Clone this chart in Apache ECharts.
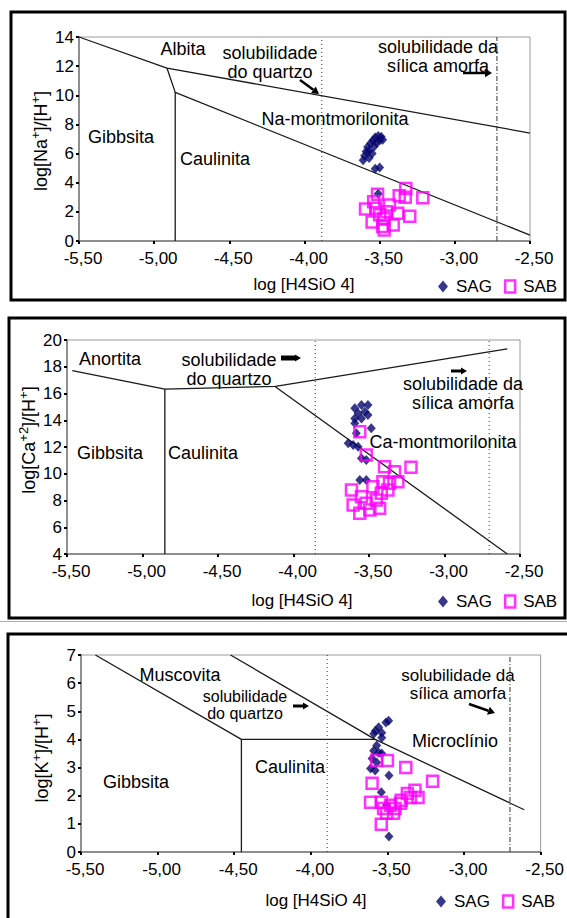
<!DOCTYPE html>
<html><head><meta charset="utf-8">
<script src="https://cdn.jsdelivr.net/npm/echarts@6/dist/echarts.min.js"></script>
<style>html,body{margin:0;padding:0;background:#fff}#c{width:567px;height:918px}</style>
</head><body><div id="c"></div>
<script>
// ---------- data (axis units) ----------
const xTicks = [-5.5, -5.0, -4.5, -4.0, -3.5, -3.0, -2.5];
const naTicks = [0, 2, 4, 6, 8, 10, 12, 14];
const caTicks = [4, 6, 8, 10, 12, 14, 16, 18, 20];
const kTicks = [0, 1, 2, 3, 4, 5, 6, 7];

// Panel 1: Na
const naBoundUpper = [[-5.5, 14.0], [-4.915, 11.87], [-2.5, 7.41]];
const naBoundLower = [[-4.915, 11.87], [-4.86, 10.2], [-2.5, 0.4]];
const naBoundVert = [[-4.86, 10.2], [-4.86, 0]];
const naQuartz = [[-3.885, 0], [-3.885, 14]];
const naAmorph = [[-2.72, 0], [-2.72, 14]];
const naSAG = [[-3.61,5.55],[-3.60,5.85],[-3.59,6.15],[-3.58,6.45],[-3.57,6.2],[-3.56,6.7],[-3.55,6.0],[-3.545,6.9],[-3.535,6.5],[-3.53,7.1],[-3.52,6.75],[-3.51,7.2],[-3.50,6.9],[-3.49,7.15],[-3.48,6.95],[-3.57,5.7],[-3.53,4.95],[-3.50,5.05],[-3.51,3.25]];
const naSAB = [[-3.514,3.2],[-3.594,2.2],[-3.37,3.1],[-3.326,3.6],[-3.213,2.97],[-3.526,2.24],[-3.454,2.0],[-3.38,1.9],[-3.30,1.7],[-3.55,1.3],[-3.48,1.0],[-3.41,1.1],[-3.47,1.55],[-3.50,1.8],[-3.435,2.47],[-3.47,0.75],[-3.54,2.7],[-3.33,3.0]];

// Panel 2: Ca
const caBoundUpper = [[-5.465, 17.71], [-4.852, 16.33], [-4.12, 16.53], [-2.584, 19.34]];
const caBoundVert = [[-4.852, 16.33], [-4.852, 4]];
const caBoundDiag = [[-4.12, 16.5], [-2.584, 4.0]];
const caQuartz = [[-3.856, 4], [-3.856, 20]];
const caAmorph = [[-2.704, 4], [-2.704, 20]];
const caSAG = [[-3.594,14.89],[-3.55,15.14],[-3.507,15.14],[-3.572,14.52],[-3.528,14.64],[-3.594,14.14],[-3.55,14.14],[-3.507,14.39],[-3.594,13.77],[-3.485,13.4],[-3.584,13.02],[-3.638,12.28],[-3.605,12.15],[-3.572,12.02],[-3.55,11.15],[-3.518,11.03],[-3.561,9.53],[-3.518,9.53]];
const caSAB = [[-3.561,13.14],[-3.518,11.4],[-3.397,10.53],[-3.331,10.15],[-3.222,10.48],[-3.616,8.79],[-3.55,8.28],[-3.474,9.03],[-3.408,9.41],[-3.364,9.29],[-3.309,9.41],[-3.605,7.66],[-3.518,7.79],[-3.452,8.04],[-3.561,7.04],[-3.495,7.29],[-3.43,7.42],[-3.419,8.54],[-3.375,8.79]];

// Panel 3: K
const kBoundLeft = [[-5.406, 7], [-4.453, 4], [-3.58, 4]];
const kBoundVert = [[-4.453, 4], [-4.453, 0]];
const kBoundRight = [[-4.524, 7], [-3.58, 4], [-2.607, 1.5]];
const kQuartz = [[-3.893, 0], [-3.893, 7]];
const kAmorph = [[-2.70, 0], [-2.70, 7]];
const kSAG = [[-3.492,4.66],[-3.51,4.6],[-3.557,4.43],[-3.578,4.31],[-3.589,4.2],[-3.537,4.24],[-3.537,4.06],[-3.57,3.78],[-3.59,3.6],[-3.557,3.53],[-3.537,3.5],[-3.60,3.32],[-3.57,3.18],[-3.61,2.97],[-3.58,2.9],[-3.49,2.72],[-3.54,2.12],[-3.505,1.66],[-3.49,0.55]];
const kSAB = [[-3.57,3.25],[-3.50,3.25],[-3.38,3.0],[-3.60,2.44],[-3.205,2.51],[-3.61,1.77],[-3.54,1.77],[-3.48,1.66],[-3.45,1.55],[-3.41,1.84],[-3.37,2.08],[-3.32,2.19],[-3.30,1.94],[-3.415,1.73],[-3.505,1.38],[-3.46,1.38],[-3.54,0.99],[-3.525,1.55],[-3.35,1.94]];

// ---------- chart ----------
const FONT = "'Liberation Sans', Arial, sans-serif";
const chart = echarts.init(document.getElementById('c'), null, {renderer: 'svg'});

const grids = [
  {left: 79, top: 37, width: 451, height: 204},
  {left: 67, top: 340, width: 453, height: 214},
  {left: 81, top: 655, width: 461, height: 197}
];
const yTickSets = [naTicks, caTicks, kTicks];

function xAxisFor(i) {
  return {
    type: 'value', gridIndex: i, min: xTicks[0], max: xTicks[xTicks.length - 1], interval: 0.5,
    splitLine: {show: false},
    axisLine: {onZero: false, lineStyle: {color: '#7a7a7a', width: 1.5}},
    axisTick: {show: true, length: 3, lineStyle: {color: '#000', width: 2}},
    axisLabel: {color: '#000', fontSize: 17, fontFamily: FONT, margin: 9, padding: [0, 0, 0, 8],
      formatter: v => v.toFixed(2).replace('.', ',')}
  };
}
function yAxisFor(i) {
  const t = yTickSets[i];
  return {
    type: 'value', gridIndex: i, min: t[0], max: t[t.length - 1], interval: t[1] - t[0],
    splitLine: {show: false},
    axisLine: {onZero: false, lineStyle: {color: '#7a7a7a', width: 1.5}},
    axisTick: {show: true, length: 3, lineStyle: {color: '#000', width: 2}},
    axisLabel: {color: '#000', fontSize: 17, fontFamily: FONT, margin: 5}
  };
}

function boundary(data, i) {
  return {type: 'line', xAxisIndex: i, yAxisIndex: i, data: data, symbol: 'none', silent: true,
    lineStyle: {color: '#1a1a1a', width: 1.3}, z: 2};
}
function refLine(data, i, dash) {
  return {type: 'line', xAxisIndex: i, yAxisIndex: i, data: data, symbol: 'none', silent: true,
    lineStyle: {color: '#333', width: 1, type: dash}, z: 1};
}
function sag(data, i) {
  return {type: 'scatter', name: 'SAG', xAxisIndex: i, yAxisIndex: i, data: data, symbol: 'diamond',
    symbolSize: [9, 10], itemStyle: {color: '#06066e'}, z: 3};
}
function sab(data, i) {
  return {type: 'scatter', name: 'SAB', xAxisIndex: i, yAxisIndex: i, data: data, symbol: 'rect',
    symbolSize: 11, itemStyle: {color: 'rgba(255,255,255,0)', borderColor: '#ff00ff', borderWidth: 2.5}, z: 4};
}

const dotted = [1, 3];
const dashDot = [5, 2, 1, 2];

const series = [
  boundary(naBoundUpper, 0), boundary(naBoundLower, 0), boundary(naBoundVert, 0),
  refLine(naQuartz, 0, dotted), refLine(naAmorph, 0, dashDot),
  sag(naSAG, 0), sab(naSAB, 0),
  boundary(caBoundUpper, 1), boundary(caBoundVert, 1), boundary(caBoundDiag, 1),
  refLine(caQuartz, 1, dotted), refLine(caAmorph, 1, dotted),
  sag(caSAG, 1), sab(caSAB, 1),
  boundary(kBoundLeft, 2), boundary(kBoundVert, 2), boundary(kBoundRight, 2),
  refLine(kQuartz, 2, dotted), refLine(kAmorph, 2, dashDot),
  sag(kSAG, 2), sab(kSAB, 2)
];

function legendAt(left, top) {
  return {
    left: left, top: top, itemWidth: 10, itemHeight: 12, itemGap: 12, selectedMode: false,
    textStyle: {fontSize: 17, fontFamily: FONT, color: '#000', padding: [0, 0, 0, 3]},
    data: [
      {name: 'SAG', icon: 'diamond', itemStyle: {color: '#06066e', borderWidth: 0}},
      {name: 'SAB', icon: 'rect', itemStyle: {color: 'rgba(255,255,255,0)', borderColor: '#ff00ff', borderWidth: 2.5}}
    ]
  };
}

// ---------- annotations ----------
function txt(x, y, s, size, lh) {
  return {type: 'text', x: x, y: y, silent: true,
    style: {text: s, fontSize: size || 18, fontFamily: FONT, fill: '#000', align: 'center', verticalAlign: 'middle',
      lineHeight: lh || Math.round((size || 18) * 1.15)}};
}
function arrow(x1, y1, x2, y2, w, h) {
  const dx = x2 - x1, dy = y2 - y1, L = Math.sqrt(dx * dx + dy * dy);
  const ux = dx / L, uy = dy / L, px = -uy, py = ux;
  const bx = x2 - ux * h, by = y2 - uy * h;
  return [
    {type: 'line', silent: true, shape: {x1: x1, y1: y1, x2: bx, y2: by}, style: {stroke: '#000', lineWidth: w}},
    {type: 'polygon', silent: true, shape: {points: [[x2, y2], [bx + px * h * 0.6, by + py * h * 0.6], [bx - px * h * 0.6, by - py * h * 0.6]]}, style: {fill: '#000'}}
  ];
}
function yTitle(x, y, ion) {
  return {type: 'text', x: x, y: y, rotation: Math.PI / 2, silent: true,
    style: {text: '{n|log[' + ion[0] + '}{s|' + ion[1] + '}{n|]/[H}{s|+}{n|]}', align: 'center', verticalAlign: 'middle',
      fill: '#000', fontFamily: FONT,
      rich: {n: {fontSize: 18, fontFamily: FONT, fill: '#000', verticalAlign: 'bottom'},
             s: {fontSize: 13, fontFamily: FONT, fill: '#000', verticalAlign: 'top', padding: [0, 0, 8, 0]}}}};
}
function border(x1, y1, x2, y2) {
  return {type: 'rect', silent: true, shape: {x: x1, y: y1, width: x2 - x1, height: y2 - y1},
    style: {fill: 'none', stroke: '#000', lineWidth: 3}};
}

const graphics = [
  border(11, 12, 565, 300),
  border(9, 318, 565, 618),
  border(8, 634, 572, 930),
  {type: 'line', silent: true, shape: {x1: 0, y1: 621.5, x2: 567, y2: 621.5}, style: {stroke: '#b0b0b0', lineWidth: 1}},
  // panel 1
  txt(183, 49, 'Albita'),
  txt(270, 62, 'solubilidade\ndo quartzo', 18, 19),
  txt(438, 56, 'solubilidade da\nsílica amorfa', 18, 19),
  txt(335, 119, 'Na-montmorilonita'),
  txt(121, 137, 'Gibbsita'), txt(215, 159, 'Caulinita'),
  txt(304, 284, 'log [H4SiO 4]', 17),
  yTitle(39, 141, ['Na', '+']),
  ...arrow(300, 80, 319, 94, 2.5, 7),
  ...arrow(463, 73, 492, 73, 2.5, 7),
  // panel 2
  txt(110, 359, 'Anortita'),
  txt(229, 369, 'solubilidade\ndo quartzo', 18, 19),
  txt(463, 393, 'solubilidade da\nsílica amorfa', 18, 19),
  txt(443, 442, 'Ca-montmorilonita'),
  txt(110, 453, 'Gibbsita'), txt(203, 453, 'Caulinita'),
  txt(302, 600, 'log [H4SiO 4]', 17),
  yTitle(27, 440, ['Ca', '+2']),
  ...arrow(281, 358, 301, 358, 5, 6),
  ...arrow(451, 371, 467, 371, 3, 6),
  // panel 3
  txt(180, 675, 'Muscovita'),
  txt(245, 705, 'solubilidade\ndo quartzo', 16, 17),
  txt(458, 684, 'solubilidade da\nsílica amorfa', 17, 18),
  txt(455, 741, 'Microclínio'),
  txt(290, 767, 'Caulinita'),
  txt(136, 782, 'Gibbsita'),
  txt(316, 900, 'log [H4SiO 4]', 17),
  yTitle(40, 758, ['K', '+']),
  ...arrow(293, 706, 309, 706, 3, 6),
  ...arrow(469, 704, 495, 713, 2.5, 7)
];

chart.setOption({
  animation: false,
  backgroundColor: '#fff',
  textStyle: {fontFamily: FONT},
  grid: grids.map(g => Object.assign({show: true, borderColor: '#9a9a9a', borderWidth: 1, backgroundColor: '#fff'}, g)),
  xAxis: [0, 1, 2].map(xAxisFor),
  yAxis: [0, 1, 2].map(yAxisFor),
  legend: [legendAt(433, 273), legendAt(433, 588), legendAt(431, 888)],
  series: series,
  graphic: graphics
});
</script></body></html>
